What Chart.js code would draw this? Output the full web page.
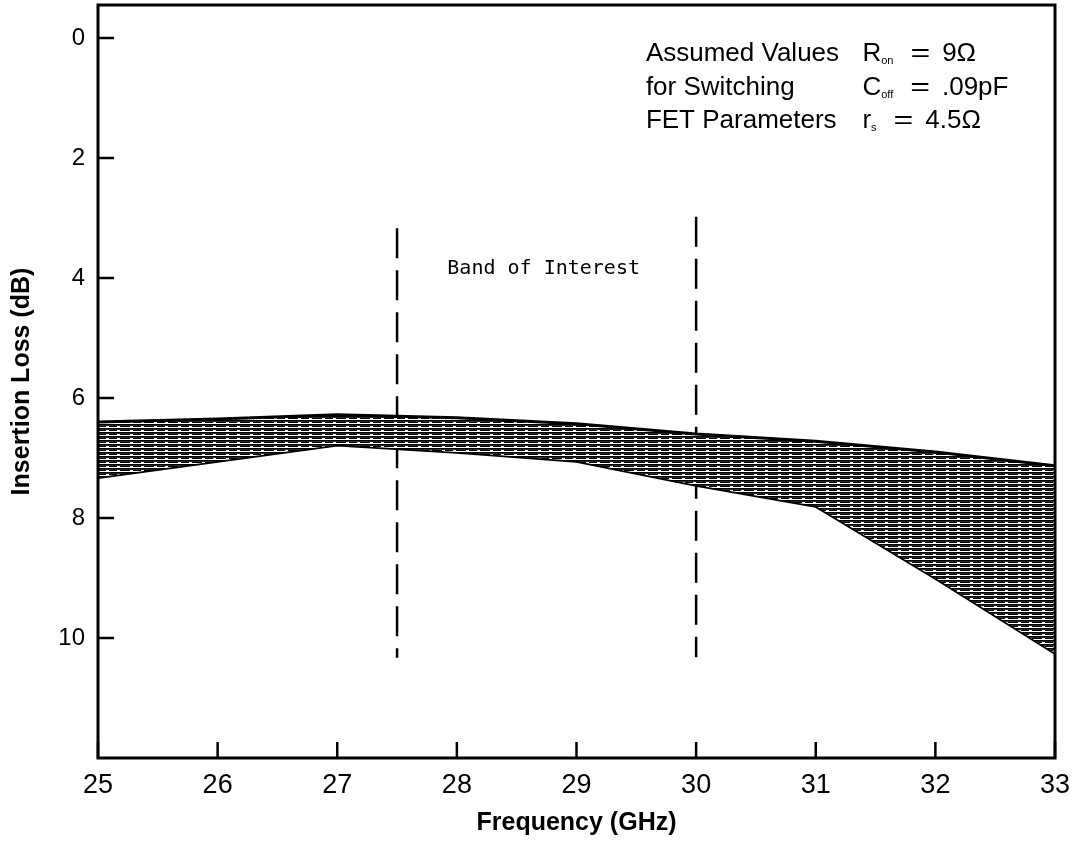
<!DOCTYPE html>
<html>
<head>
<meta charset="utf-8">
<script src="https://cdn.jsdelivr.net/npm/chart.js@4/dist/chart.umd.min.js"></script>
<style>
  html, body { margin: 0; background: #fff; }
</style>
</head>
<body>
<canvas id="myChart" width="1073" height="844"></canvas>
<script>
// Frequency points (GHz) and the two edges of the insertion loss band (dB)
const freqs = [25, 26, 27, 28, 29, 30, 31, 32, 33];
const lossBest = [6.4, 6.35, 6.28, 6.33, 6.43, 6.6, 6.72, 6.9, 7.13];
const lossWorst = [7.32, 7.05, 6.78, 6.9, 7.05, 7.45, 7.8, 9.0, 10.25];

// Band of interest markers: [freq, top dB, bottom dB]
const bandEdges = [
    [27.5, 3.17, 10.33],
    [30, 2.98, 10.32]
];

const yTicks = [0, 2, 4, 6, 8, 10];
const xTicks = [25, 26, 27, 28, 29, 30, 31, 32, 33];

const bandLabel = 'Band of Interest';
const bandLabelAt = [27.92, 3.85];

// parameter box: [label, symbol, subscript, value]
const paramRows = [
    ['Assumed Values', 'R', 'on', '9\u03A9'],
    ['for Switching', 'C', 'off', '.09pF'],
    ['FET Parameters', 'r', 's', '4.5\u03A9']
];
const paramLabelX = 29.58;
const paramSymbolX = 31.39;
const paramRowY = [0.38, 0.95, 1.5];

const FONT = '"Liberation Sans", Arial, Helvetica, sans-serif';
Chart.defaults.font.family = FONT;
Chart.defaults.color = '#000';

// hatch pattern for the loss band
function makeHatch() {
    const c = document.createElement('canvas');
    c.width = 24;
    c.height = 4;
    const g = c.getContext('2d');
    g.fillStyle = '#fff';
    g.fillRect(0, 0, 24, 4);
    g.fillStyle = '#000';
    g.fillRect(0, 0, 24, 1);
    g.fillRect(0, 2, 10, 1);
    g.fillRect(13, 2, 8, 1);
    g.fillStyle = '#2a2a2a';
    g.fillRect(0, 1, 24, 1);
    return g.createPattern(c, 'repeat');
}

const frameAndNotes = {
    id: 'frameAndNotes',
    afterDatasetsDraw(chart) {
        const { ctx, chartArea: a, scales: { x, y } } = chart;
        ctx.save();
        ctx.strokeStyle = '#000';

        // inward tick marks
        ctx.lineWidth = 2.5;
        yTicks.forEach(v => {
            const py = y.getPixelForValue(v);
            ctx.beginPath();
            ctx.moveTo(a.left, py);
            ctx.lineTo(a.left + 16, py);
            ctx.stroke();
        });
        xTicks.forEach(v => {
            const px = x.getPixelForValue(v);
            ctx.beginPath();
            ctx.moveTo(px, a.bottom);
            ctx.lineTo(px, a.bottom - 16);
            ctx.stroke();
        });

        // frame
        ctx.lineWidth = 3;
        ctx.strokeRect(a.left, a.top, a.right - a.left, a.bottom - a.top);

        ctx.fillStyle = '#000';
        ctx.textBaseline = 'middle';
        ctx.font = '20px "DejaVu Sans Mono", monospace';
        ctx.fillText(bandLabel, x.getPixelForValue(bandLabelAt[0]), y.getPixelForValue(bandLabelAt[1]));

        // assumed parameter block
        ctx.textBaseline = 'alphabetic';
        paramRows.forEach((row, i) => {
            const py = y.getPixelForValue(paramRowY[i]);
            ctx.font = '26px ' + FONT;
            ctx.fillText(row[0], x.getPixelForValue(paramLabelX), py);
            let px = x.getPixelForValue(paramSymbolX);
            ctx.fillText(row[1], px, py);
            px += ctx.measureText(row[1]).width;
            ctx.font = '11px ' + FONT;
            ctx.fillText(row[2], px, py + 3);
            px += ctx.measureText(row[2]).width + 17;
            ctx.font = '26px ' + FONT;
            ctx.save();
            ctx.scale(1.3, 1);
            ctx.fillText('=', px / 1.3, py);
            ctx.restore();
            px += ctx.measureText('=').width * 1.3 + 12;
            ctx.fillText(row[3], px, py);
        });
        ctx.restore();
    }
};

const datasets = [
    {
        label: 'best',
        data: freqs.map((f, i) => ({ x: f, y: lossBest[i] })),
        borderColor: '#000',
        borderWidth: 3,
        backgroundColor: makeHatch(),
        fill: '+1',
        pointRadius: 0,
        tension: 0
    },
    {
        label: 'worst',
        data: freqs.map((f, i) => ({ x: f, y: lossWorst[i] })),
        borderColor: '#000',
        borderWidth: 3.5,
        fill: false,
        pointRadius: 0,
        tension: 0
    }
];

bandEdges.forEach(edge => {
    datasets.push({
        label: 'band ' + edge[0],
        data: [{ x: edge[0], y: edge[1] }, { x: edge[0], y: edge[2] }],
        borderColor: '#000',
        borderWidth: 2.5,
        borderDash: [30, 12],
        fill: false,
        pointRadius: 0
    });
});

const ctx = document.getElementById('myChart');

const myChart = new Chart(ctx, {
    type: 'line',
    data: { datasets: datasets },
    plugins: [frameAndNotes],
    options: {
        responsive: false,
        animation: false,
        layout: {
            autoPadding: false,
            padding: { left: 0, right: 18, top: 5, bottom: 0 }
        },
        scales: {
            x: {
                type: 'linear',
                min: 25,
                max: 33,
                afterBuildTicks: scale => {
                    scale.ticks = xTicks.map(v => ({ value: v }));
                },
                afterFit: scale => {
                    scale.height = 86;
                    scale.paddingLeft = 0;
                    scale.paddingRight = 0;
                },
                grid: { display: false, drawTicks: false },
                border: { display: false },
                ticks: {
                    font: { size: 27 },
                    color: '#000',
                    padding: 11,
                    maxRotation: 0
                },
                title: {
                    display: true,
                    text: 'Frequency (GHz)',
                    font: { size: 25, weight: 'bold' },
                    color: '#000',
                    padding: { top: 0, bottom: 6 }
                }
            },
            y: {
                type: 'linear',
                reverse: true,
                min: -0.55,
                max: 12,
                afterBuildTicks: scale => {
                    scale.ticks = yTicks.map(v => ({ value: v }));
                },
                afterFit: scale => {
                    scale.width = 98;
                    scale.paddingTop = 0;
                    scale.paddingBottom = 0;
                },
                grid: { display: false, drawTicks: false },
                border: { display: false },
                ticks: {
                    font: { size: 24 },
                    color: '#000',
                    padding: 13
                },
                title: {
                    display: true,
                    text: 'Insertion Loss (dB)',
                    font: { size: 25, weight: 'bold' },
                    color: '#000',
                    padding: { top: 7, bottom: 0 }
                }
            }
        },
        plugins: {
            legend: { display: false },
            tooltip: { enabled: false }
        }
    }
});
</script>
</body>
</html>
